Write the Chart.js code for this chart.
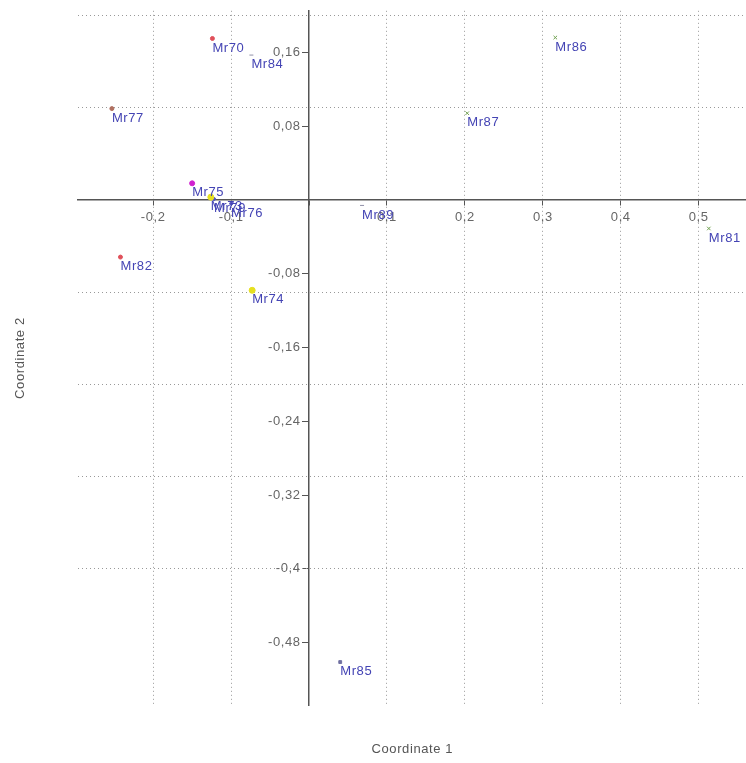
<!DOCTYPE html>
<html>
<head>
<meta charset="utf-8">
<title>PCoA</title>
<script src="https://cdn.jsdelivr.net/npm/chart.js@4.4.1/dist/chart.umd.min.js"></script>
<style>
  html, body { margin: 0; padding: 0; background: #fff; overflow: hidden; }
  #wrap { width: 752px; height: 763px; }
</style>
</head>
<body>
<div id="wrap"><canvas id="pcoa"></canvas></div>
<script>
'use strict';

// ── Samples ────────────────────────────────────
const NAMES  = ['Mr70', 'Mr84', 'Mr77', 'Mr86', 'Mr87', 'Mr75', 'Mr73', 'Mr79', 'Mr76', 'Mr89', 'Mr81', 'Mr82', 'Mr74', 'Mr85'];
const COORD1 = [-0.124, -0.074, -0.253, 0.316, 0.203, -0.150, -0.126, -0.122, -0.100, 0.068, 0.513, -0.242, -0.073, 0.040];
const COORD2 = [ 0.175,  0.157,  0.099, 0.176, 0.094,  0.018,  0.003,  0.001, -0.004, -0.006, -0.031, -0.062, -0.098, -0.501];
const GROUPS = ['red', 'grey', 'brown', 'green', 'green', 'magenta', 'yellow', 'blue', 'blue', 'grey', 'green', 'red', 'yellow', 'square'];

// ── Axes ───────────────────────────────────────
const X_TICKS  = [-0.2, -0.1, 0, 0.1, 0.2, 0.3, 0.4, 0.5];
const X_LABELS = ['-0,2', '-0,1', '', '0,1', '0,2', '0,3', '0,4', '0,5'];
const Y_TICKS  = [0.16, 0.08, 0, -0.08, -0.16, -0.24, -0.32, -0.4, -0.48];
const Y_LABELS = ['0,16', '0,08', '', '-0,08', '-0,16', '-0,24', '-0,32', '-0,4', '-0,48'];
const Y_GRID   = [0.2, 0.1, -0.1, -0.2, -0.3, -0.4];

const X_RANGE = { min: -0.297, max: 0.562 };
const Y_RANGE = { min: -0.548, max: 0.205 };

// ── Marker styles per group ────────────────────
const GROUP_STYLE = {
  red:     { color: '#e0505a', pointStyle: 'circle',   radius: 2 },
  brown:   { color: '#b07060', pointStyle: 'circle',   radius: 2 },
  magenta: { color: '#d020d0', pointStyle: 'circle',   radius: 2.5 },
  yellow:  { color: '#e6e020', pointStyle: 'circle',   radius: 3 },
  blue:    { color: '#5050c0', pointStyle: 'circle',   radius: 1.5 },
  grey:    { color: '#9090a8', pointStyle: 'line',     radius: 2 },
  green:   { color: '#70a050', pointStyle: 'crossRot', radius: 2.5 },
  square:  { color: '#7070a0', pointStyle: 'rect',     radius: 2 },
};

const GRID_COLOR = '#999';
const AXIS_COLOR = '#555';
const FONT_FAMILY = '"Liberation Sans", Arial, sans-serif';
const TICK_FONT  = { family: FONT_FAMILY, size: 13 };
const GAP = '  '; // keeps y labels clear of the axis tick marks

// ── Datasets, one per marker group ─────────────
const groupNames = [...new Set(GROUPS)];
const datasets = groupNames.map(g => {
  const st = GROUP_STYLE[g];
  const data = [];
  NAMES.forEach((n, i) => {
    if (GROUPS[i] === g) data.push({ x: COORD1[i], y: COORD2[i], name: n });
  });
  return {
    label: g,
    data,
    xAxisID: 'x',
    yAxisID: 'y',
    pointStyle: st.pointStyle,
    pointRadius: st.radius,
    pointBackgroundColor: st.color,
    pointBorderColor: st.color,
    pointBorderWidth: 1,
    showLine: false,
  };
});

// wider letter spacing for all canvas text
const spacing = {
  id: 'spacing',
  beforeDraw(chart) { chart.ctx.letterSpacing = '0.6px'; },
};

// ── Sample names next to each point ────────────
const pointLabels = {
  id: 'pointLabels',
  afterDatasetsDraw(chart) {
    const ctx = chart.ctx;
    ctx.save();
    ctx.font = '13px ' + FONT_FAMILY;
    ctx.fillStyle = '#4444b4';
    ctx.textBaseline = 'top';
    ctx.textAlign = 'left';
    chart.data.datasets.forEach((ds, i) => {
      chart.getDatasetMeta(i).data.forEach((pt, j) => {
        ctx.fillText(ds.data[j].name, pt.x, pt.y + 3);
      });
    });
    ctx.restore();
  },
};

new Chart(document.getElementById('pcoa'), {
  type: 'scatter',
  data: { datasets },
  plugins: [spacing, pointLabels],
  options: {
    responsive: true,
    maintainAspectRatio: false,
    animation: false,
    layout: { padding: { top: 10, right: 0, bottom: 0, left: 0 } },
    plugins: {
      legend: { display: false },
      tooltip: { enabled: false },
    },
    scales: {
      // horizontal axis drawn through y = 0
      x: {
        type: 'linear',
        position: { y: 0 },
        min: X_RANGE.min,
        max: X_RANGE.max,
        afterBuildTicks: s => { s.ticks = X_TICKS.map(v => ({ value: v })); },
        ticks: {
          autoSkip: false,
          maxRotation: 0,
          padding: 5,
          color: '#666',
          font: TICK_FONT,
          callback: (v, i) => X_LABELS[i],
        },
        grid: {
          color: c => (c.tick && c.tick.value === 0 ? 'rgba(0,0,0,0)' : GRID_COLOR),
          lineWidth: 1,
          tickColor: AXIS_COLOR,
          tickLength: 5,
        },
        border: { display: true, color: AXIS_COLOR, width: 1.5, dash: [1, 3] },
      },
      // vertical axis drawn through x = 0
      y: {
        type: 'linear',
        position: { x: 0 },
        min: Y_RANGE.min,
        max: Y_RANGE.max,
        afterBuildTicks: s => { s.ticks = Y_TICKS.map(v => ({ value: v })); },
        ticks: {
          autoSkip: false,
          color: '#666',
          font: TICK_FONT,
          callback: (v, i) => (Y_LABELS[i] ? Y_LABELS[i] + GAP : ''),
        },
        grid: {
          drawOnChartArea: false,
          tickColor: AXIS_COLOR,
          tickLength: 6,
        },
        border: { display: true, color: AXIS_COLOR, width: 1.5 },
      },
      // horizontal dotted grid + left title
      yGrid: {
        type: 'linear',
        position: 'left',
        min: Y_RANGE.min,
        max: Y_RANGE.max,
        afterBuildTicks: s => { s.ticks = Y_GRID.map(v => ({ value: v })); },
        ticks: { display: false },
        grid: { color: GRID_COLOR, lineWidth: 1, drawTicks: false },
        border: { display: false, dash: [1, 3] },
        title: {
          display: true,
          text: 'Coordinate 2',
          color: '#555',
          font: { family: FONT_FAMILY, size: 13 },
          padding: { top: 13, bottom: 49 },
        },
      },
      // bottom title only
      xTitle: {
        type: 'linear',
        position: 'bottom',
        min: X_RANGE.min,
        max: X_RANGE.max,
        ticks: { display: false },
        grid: { display: false, drawTicks: false },
        border: { display: false },
        title: {
          display: true,
          text: 'Coordinate 1',
          color: '#555',
          font: { family: FONT_FAMILY, size: 13 },
          padding: { top: 36, bottom: 6 },
        },
      },
    },
  },
});
</script>
</body>
</html>
